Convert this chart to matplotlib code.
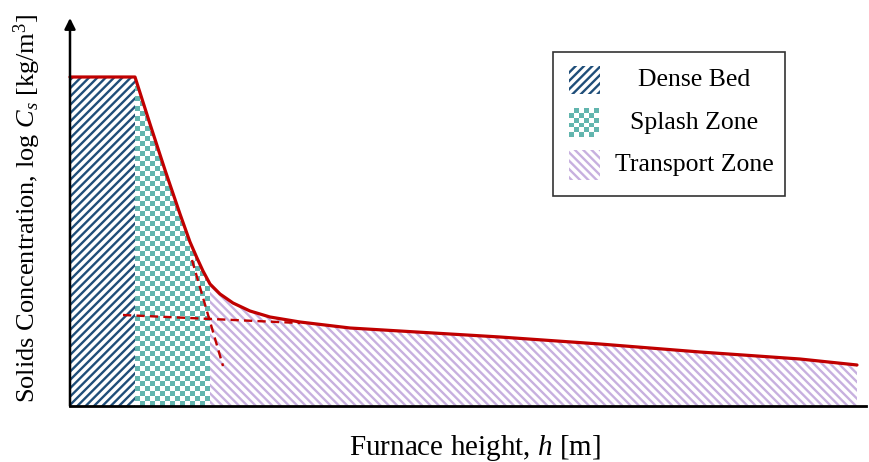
import numpy as np
import matplotlib
matplotlib.use("Agg")
import matplotlib.pyplot as plt
from matplotlib.patches import Rectangle, Polygon

plt.rcParams['font.family'] = ['Liberation Serif', 'DejaVu Serif']
plt.rcParams['mathtext.fontset'] = 'custom'
plt.rcParams['mathtext.rm'] = 'Liberation Serif'
plt.rcParams['mathtext.it'] = 'Liberation Serif:italic'
plt.rcParams['hatch.linewidth'] = 1.7

# Schematic profile (arbitrary units)
height = [0, 65, 80, 95, 110, 120, 127, 133, 140, 150, 163, 180, 200, 230,
          280, 330, 430, 530, 630, 730, 787]
conc = [329, 329, 282, 236, 192, 164, 148, 135, 122, 112, 103, 95, 89, 84,
        78, 75, 69, 62, 54, 47, 41]

# zone boundaries along the height
dense_end = 65
splash_end = 140

# dashed construction lines
trend_x = [53, 230]
trend_y = [91, 83]
steep_x = [122, 153]
steep_y = [146, 40]

zone_names = ["Dense Bed", "Splash Zone", "Transport Zone"]

RED = "#c00000"
NAVY = "#1f4e79"
TEAL = "#62b5ae"
PURPLE = "#c7b0df"

W, H = 869, 462
fig = plt.figure(figsize=(W / 100, H / 100), dpi=100)
ax = fig.add_axes([70 / W, 1 - 406 / H, (866 - 70) / W, (406 - 18) / H])
for s in ["top", "right", "left", "bottom"]:
    ax.spines[s].set_visible(False)
ax.set_xticks([])
ax.set_yticks([])

hx = np.array(height, dtype=float)
cy = np.array(conc, dtype=float)


def zone_poly(x0, x1):
    """Polygon under the curve between x0 and x1."""
    inside = (hx > x0) & (hx < x1)
    xs = np.concatenate([[x0], hx[inside], [x1]])
    ys = np.interp(xs, hx, cy)
    verts = [(x0, 0)] + list(zip(xs, ys)) + [(x1, 0)]
    return verts


# dense bed
ax.add_patch(Polygon(zone_poly(0, dense_end), closed=True, facecolor="white",
                     edgecolor=NAVY, lw=0, hatch="////"))
# transport zone
ax.add_patch(Polygon(zone_poly(splash_end, hx[-1]), closed=True, facecolor="white",
                     edgecolor=PURPLE, lw=0, hatch="\\\\\\\\"))
# splash zone - checkerboard clipped to the area
cell = 5
nx = int(np.ceil((splash_end - dense_end) / cell))
ny = int(np.ceil(cy.max() / cell)) + 1
ii, jj = np.indices((ny, nx))
board = (ii + jj) % 2
cmap = matplotlib.colors.ListedColormap(["white", TEAL])
clip = Polygon(zone_poly(dense_end, splash_end), closed=True, facecolor="none", lw=0)
ax.add_patch(clip)
im = ax.imshow(board, cmap=cmap, interpolation="nearest", aspect="auto", origin="lower",
               extent=[dense_end, dense_end + nx * cell, 0, ny * cell])
im.set_clip_path(clip)
ax.set_xlim(0, 796)
ax.set_ylim(0, 388)

# construction lines
ax.plot(trend_x, trend_y, color=RED, lw=1.7, ls=(0, (3.5, 2.2)))
ax.plot(steep_x, steep_y, color=RED, lw=1.7, ls=(0, (3.5, 2.2)))

# profile
ax.plot(height, conc, color=RED, lw=2.3, solid_capstyle="round", clip_on=False, zorder=5)

# axes with arrow
ax.plot([0, 796], [0, 0], color="black", lw=2, clip_on=False, zorder=6)
ax.annotate("", xy=(0, 1), xytext=(0, 0), xycoords="axes fraction",
            arrowprops=dict(arrowstyle="-|>", lw=1.8, color="black", mutation_scale=16,
                            shrinkA=0, shrinkB=0), zorder=6)

fig.text(475 / W, 1 - 448 / H, "Furnace height, $h$ [m]", ha="center", va="center",
         fontsize=21)
fig.text(27 / W, 1 - 208 / H, "Solids Concentration, log $C_s$ [kg/m$^3$]",
         ha="center", va="center", rotation=90, fontsize=19)

# legend drawn by hand (checker pattern is not a hatch)
def fx(p):
    return p / W


def fy(p):
    return 1 - p / H


fig.add_artist(Rectangle((fx(553), fy(196)), fx(785) - fx(553), fy(52) - fy(196),
                         transform=fig.transFigure, facecolor="white",
                         edgecolor="#333333", lw=1.2))
rows = [80, 123, 165]
sw_x0, sw_x1 = 569, 600
fig.add_artist(Rectangle((fx(sw_x0), fy(rows[0] + 14)), fx(sw_x1) - fx(sw_x0), 28 / H,
                         transform=fig.transFigure, facecolor="white", edgecolor=NAVY,
                         lw=0, hatch="////"))
fig.add_artist(Rectangle((fx(sw_x0), fy(rows[2] + 15)), fx(sw_x1) - fx(sw_x0), 30 / H,
                         transform=fig.transFigure, facecolor="white", edgecolor=PURPLE,
                         lw=0, hatch="\\\\\\\\"))
for i in range(6):
    for j in range(6):
        if (i + j) % 2 == 0:
            fig.add_artist(Rectangle((fx(sw_x0 + j * 5), fy(rows[1] + 14 - i * 4.8)),
                                     5 / W, 4.8 / H, transform=fig.transFigure,
                                     facecolor=TEAL, lw=0))
for name, r in zip(zone_names, rows):
    fig.text(fx(694), fy(r), name, ha="center", va="center", fontsize=18.5)

fig.savefig("out.png", dpi=100)
